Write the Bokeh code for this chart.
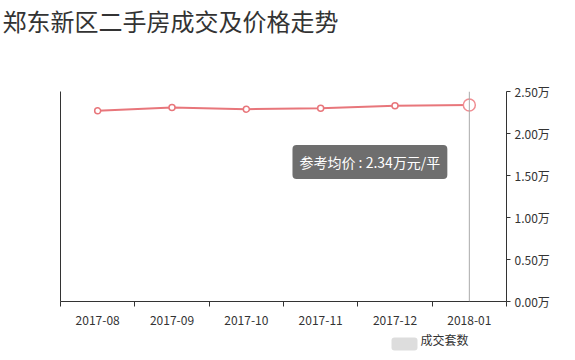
from bokeh.plotting import figure
from bokeh.models import Label, Span, LinearAxis, FixedTicker, Range1d, Title
from bokeh.embed import file_html
from bokeh.resources import INLINE

FONT = "Noto Sans CJK SC"
title_text = "郑东新区二手房成交及价格走势"
months = ["2017-08", "2017-09", "2017-10", "2017-11", "2017-12", "2018-01"]
avg_price = [2.27, 2.31, 2.29, 2.30, 2.33, 2.34]  # 万元/平
y_ticks = [0.0, 0.5, 1.0, 1.5, 2.0, 2.5]
legend_name = "成交套数"
tip_label = "参考均价"

LINE_C = "#e8767b"

xs = [i + 0.5 for i in range(len(months))]

p = figure(width=575, height=360, output_backend="svg", toolbar_location=None,
           x_range=Range1d(0, len(months)), y_range=Range1d(0, 2.5),
           min_border_left=60, min_border_right=69, min_border_top=91, min_border_bottom=59)
p.title = Title(text=title_text, align="left", vertical_align="top", offset=-58, standoff=5,
                text_font=FONT, text_font_size="24px", text_color="#333333",
                text_font_style="normal")
# empty spacer row between the title and the plot area
p.add_layout(Title(text=" ", text_font=FONT, text_font_size="20px", standoff=18), "above")
p.outline_line_color = None
p.xgrid.visible = False
p.ygrid.visible = False
p.background_fill_color = "white"
p.border_fill_color = "white"

# bottom axis
xa = p.xaxis[0]
xa.ticker = FixedTicker(ticks=xs, minor_ticks=list(range(len(months) + 1)))
xa.major_label_overrides = {x: m for x, m in zip(xs, months)}
xa.major_tick_out = 0
xa.major_tick_in = 0
xa.minor_tick_out = 5
xa.minor_tick_in = 0
xa.minor_tick_line_color = "#333333"
xa.axis_line_color = "#333333"
xa.major_label_text_font = FONT
xa.major_label_text_font_size = "12px"
xa.major_label_text_color = "#333333"
xa.major_label_standoff = 9

# left axis: line only
ya = p.yaxis[0]
ya.ticker = FixedTicker(ticks=[])
ya.major_tick_line_color = None
ya.minor_tick_line_color = None
ya.axis_line_color = "#333333"

# right axis
ra = LinearAxis(ticker=FixedTicker(ticks=y_ticks),
                major_label_overrides={t: f"{t:.2f}万" for t in y_ticks})
ra.major_tick_out = 4
ra.major_tick_in = 0
ra.minor_tick_line_color = None
ra.axis_line_color = "#333333"
ra.major_tick_line_color = "#333333"
ra.major_label_text_font = FONT
ra.major_label_text_font_size = "12px"
ra.major_label_text_color = "#333333"
ra.major_label_standoff = 4
p.add_layout(ra, "right")

# hover crosshair
p.add_layout(Span(location=xs[-1], dimension="height", line_color="#aaaaaa", line_width=1))

p.line(xs, avg_price, line_color=LINE_C, line_width=2)
p.scatter(xs[:-1], avg_price[:-1], size=6, fill_color="white", line_color=LINE_C, line_width=1.5)
p.scatter(xs[-1:], avg_price[-1:], size=12, fill_color="white", line_color="#f08e93", line_width=1.5)

# tooltip
p.add_layout(Label(x=xs[-1], y=1.66, x_offset=-22, text=f"{tip_label} : {avg_price[-1]:.2f}万元/平",
                   text_font=FONT, text_font_size="14px", text_color="white",
                   text_align="right", text_baseline="middle",
                   background_fill_color="#666666", background_fill_alpha=0.95,
                   padding=7, border_radius=4))

# legend, drawn as labels in the bottom panel (each label gets its own row)
p.add_layout(Label(x=331, y=-3.5, x_units="screen", y_units="screen", text="成交套",
                   text_font=FONT, text_font_size="8px", text_color="#dddddd",
                   text_baseline="middle", padding=1,
                   background_fill_color="#dddddd", border_radius=3), "below")
p.add_layout(Label(x=360, y=18, x_units="screen", y_units="screen", text=legend_name,
                   text_font=FONT, text_font_size="12px", text_color="#333333",
                   text_baseline="middle"), "below")

open("out.html", "w").write(file_html(p, INLINE))
